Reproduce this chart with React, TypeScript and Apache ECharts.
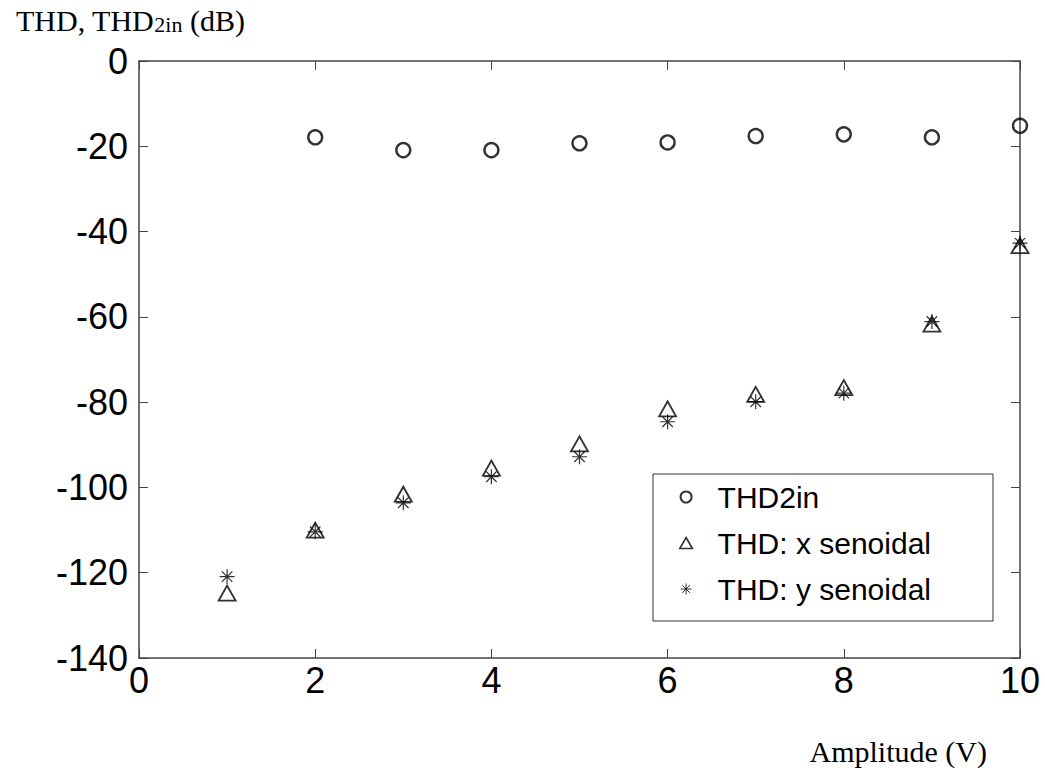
import React, { useEffect, useRef } from "react";
import * as echarts from "echarts";

const amplitudes = [1, 2, 3, 4, 5, 6, 7, 8, 9, 10];
const thd2inX = [2, 3, 4, 5, 6, 7, 8, 9, 10];
const thd2in = [-17.9, -20.9, -20.9, -19.3, -19.1, -17.6, -17.2, -17.9, -15.2];
const thdX = [-124.8, -110.0, -101.6, -95.5, -89.8, -81.6, -78.2, -76.6, -61.7, -43.3];
const thdY = [-120.9, -110.4, -103.6, -97.5, -92.8, -84.6, -79.9, -77.9, -61.1, -42.7];
const seriesNames = ["THD2in", "THD: x senoidal", "THD: y senoidal"];
const xTicks = { min: 0, max: 10, interval: 2 };
const yTicks = { min: -140, max: 0, interval: 20 };

const ASTERISK = "path://M0,-1L0,1M-1,0L1,0M-0.7,-0.7L0.7,0.7M-0.7,0.7L0.7,-0.7";
const TRIANGLE = "path://M0,0L6,10.5L-6,10.5Z";
const SANS = "'Liberation Sans', Arial, sans-serif";
const SERIF = "'Liberation Serif', 'Times New Roman', serif";
const AXIS_COLOR = "#444";

export default function App() {
  const ref = useRef<HTMLDivElement>(null);
  useEffect(() => {
    document.body.style.margin = "0";
    const chart = echarts.init(ref.current!, undefined, { renderer: "svg" });
    const axisCommon = {
      axisLine: { show: true, onZero: false, lineStyle: { color: AXIS_COLOR, width: 1.5 } },
      axisTick: { show: true, inside: true, length: 9, lineStyle: { color: AXIS_COLOR, width: 1 } },
      splitLine: { show: false },
    };
    chart.setOption({
      animation: false,
      backgroundColor: "#fff",
      title: {
        text: "{a|THD, THD}{b|2in}{a| (dB)}",
        left: 11,
        top: -4,
        textStyle: {
          fontWeight: "normal",
          rich: {
            a: { fontFamily: SERIF, fontSize: 30, fontWeight: "normal", color: "#000", lineHeight: 34, verticalAlign: "bottom" },
            b: { fontFamily: SERIF, fontSize: 22, fontWeight: "normal", color: "#000", lineHeight: 20, verticalAlign: "bottom" },
          },
        },
      },
      grid: { left: 139, top: 61, right: 25, bottom: 115, containLabel: false },
      xAxis: [
        {
          type: "value",
          position: "bottom",
          ...xTicks,
          ...axisCommon,
          name: "Amplitude (V)",
          nameLocation: "end",
          nameGap: -33,
          nameTextStyle: {
            fontFamily: SERIF,
            fontSize: 30,
            color: "#000",
            align: "right",
            verticalAlign: "top",
            padding: [78, 0, 0, 0],
          },
          axisLabel: { fontFamily: SANS, fontSize: 36, color: "#000", margin: 4 },
        },
        {
          type: "value",
          position: "top",
          ...xTicks,
          ...axisCommon,
          axisLabel: { show: false },
        },
      ],
      yAxis: [
        {
          type: "value",
          position: "left",
          ...yTicks,
          ...axisCommon,
          axisLabel: { fontFamily: SANS, fontSize: 36, color: "#000", margin: 11 },
        },
        {
          type: "value",
          position: "right",
          ...yTicks,
          ...axisCommon,
          axisLabel: { show: false },
        },
      ],
      legend: {
        orient: "vertical",
        left: 653,
        top: 474,
        padding: [0, 62, 9, 26],
        itemWidth: 53,
        itemHeight: 11,
        itemGap: 0,
        symbolKeepAspect: true,
        backgroundColor: "#fff",
        borderColor: "#333",
        borderWidth: 1,
        borderRadius: 0,
        textStyle: { fontFamily: SANS, fontSize: 30, color: "#000", lineHeight: 46 },
        data: [
          { name: seriesNames[0], icon: "circle", itemStyle: { color: "transparent", borderColor: "#000", borderWidth: 2 } },
          { name: seriesNames[1], icon: TRIANGLE, itemStyle: { color: "transparent", borderColor: "#000", borderWidth: 1.6 } },
          { name: seriesNames[2], icon: ASTERISK, itemStyle: { color: "transparent", borderColor: "#000", borderWidth: 1 } },
        ],
      },
      series: [
        {
          name: seriesNames[0],
          type: "scatter",
          symbol: "circle",
          symbolSize: 14,
          itemStyle: { color: "transparent", borderColor: "#000", borderWidth: 2.4 },
          data: thd2inX.map((x, i) => [x, thd2in[i]]),
        },
        {
          name: seriesNames[1],
          type: "scatter",
          symbol: "triangle",
          symbolSize: [17, 15],
          itemStyle: { color: "transparent", borderColor: "#000", borderWidth: 1.8 },
          data: amplitudes.map((x, i) => [x, thdX[i]]),
        },
        {
          name: seriesNames[2],
          type: "scatter",
          symbol: ASTERISK,
          symbolSize: 15,
          itemStyle: { color: "transparent", borderColor: "#000", borderWidth: 1.2 },
          data: amplitudes.map((x, i) => [x, thdY[i]]),
        },
      ],
    });
    return () => chart.dispose();
  }, []);
  return <div ref={ref} style={{ width: 1045, height: 773 }} />;
}
